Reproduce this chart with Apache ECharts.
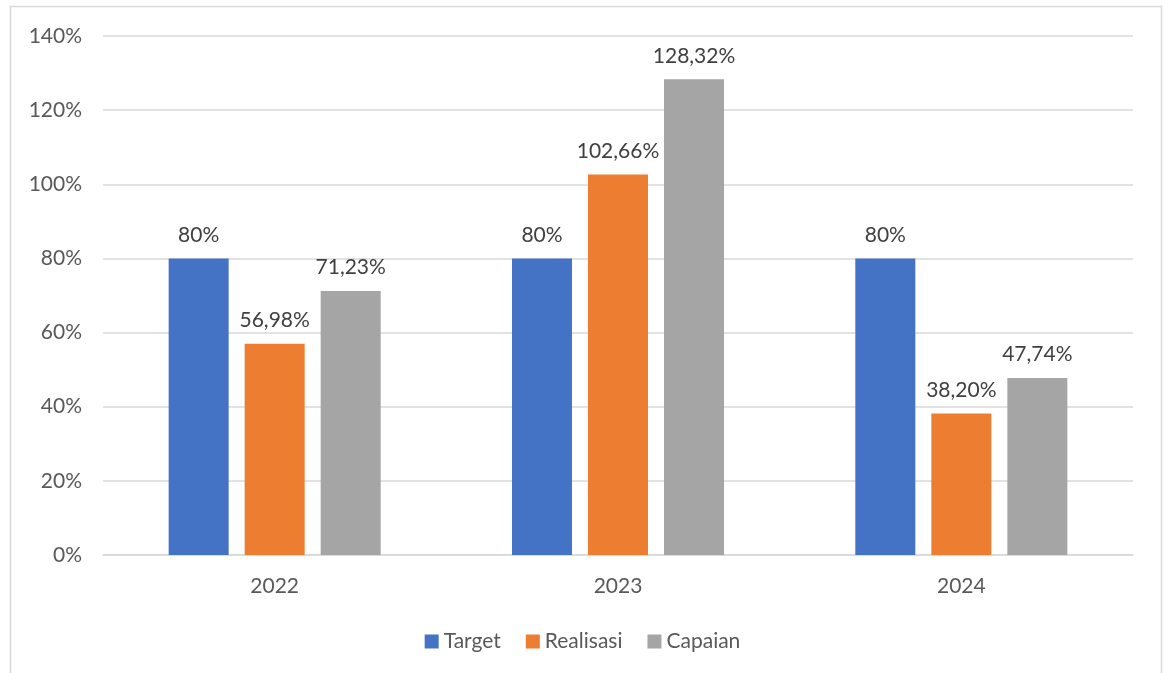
<!DOCTYPE html>
<html>
<head>
<meta charset="utf-8">
<script src="https://cdn.jsdelivr.net/npm/echarts@6/dist/echarts.min.js"></script>
<style>
  html, body { margin: 0; padding: 0; background: #fff; }
  #main { width: 1165px; height: 673px; }
</style>
</head>
<body>
<div id="main"></div>
<script>
var categories = ['2022', '2023', '2024'];
var target = [80, 80, 80];
var realisasi = [56.98, 102.66, 38.20];
var capaian = [71.23, 128.32, 47.74];

var chart = echarts.init(document.getElementById('main'), null, { renderer: 'canvas' });

var FONT = 'Lato, "Open Sans", sans-serif';

function fmtPct(v) {
  if (Math.round(v) === v) return v + '%';
  return v.toFixed(2).replace('.', ',') + '%';
}

function barSeries(name, data, color) {
  return {
    name: name,
    type: 'bar',
    data: data,
    barWidth: 60,
    barGap: '26.7%',
    itemStyle: { color: color },
    label: {
      show: true,
      position: 'top',
      distance: 13,
      color: '#404040',
      fontSize: 21,
      fontFamily: FONT,
      formatter: function (p) { return fmtPct(p.value); }
    }
  };
}

chart.setOption({
  animation: false,
  backgroundColor: '#fff',
  graphic: [{
    type: 'rect',
    shape: { x: 10.5, y: 6.5, width: 1151, height: 700 },
    style: { fill: 'none', stroke: '#d9d9d9', lineWidth: 1.5 },
    silent: true
  }],
  grid: { left: 103, right: 32, top: 36, bottom: 118 },
  legend: {
    top: 626,
    left: 'center',
    itemWidth: 14,
    itemHeight: 14,
    itemGap: 25,
    icon: 'rect',
    textStyle: { color: '#595959', fontSize: 21, fontFamily: FONT },
    data: ['Target', 'Realisasi', 'Capaian']
  },
  xAxis: {
    type: 'category',
    data: categories,
    axisLine: { lineStyle: { color: '#d9d9d9', width: 1.5 } },
    axisTick: { show: false },
    axisLabel: { color: '#595959', fontSize: 21, fontFamily: FONT, margin: 21 }
  },
  yAxis: {
    type: 'value',
    min: 0,
    max: 140,
    interval: 20,
    axisLine: { show: false },
    axisTick: { show: false },
    splitLine: { lineStyle: { color: '#d9d9d9', width: 1.5 } },
    axisLabel: {
      color: '#595959',
      fontSize: 21,
      fontFamily: FONT,
      margin: 21,
      formatter: '{value}%'
    }
  },
  series: [
    barSeries('Target', target, '#4472c4'),
    barSeries('Realisasi', realisasi, '#ed7d31'),
    barSeries('Capaian', capaian, '#a5a5a5')
  ]
});

window.addEventListener('resize', function () { chart.resize(); });
</script>
</body>
</html>
